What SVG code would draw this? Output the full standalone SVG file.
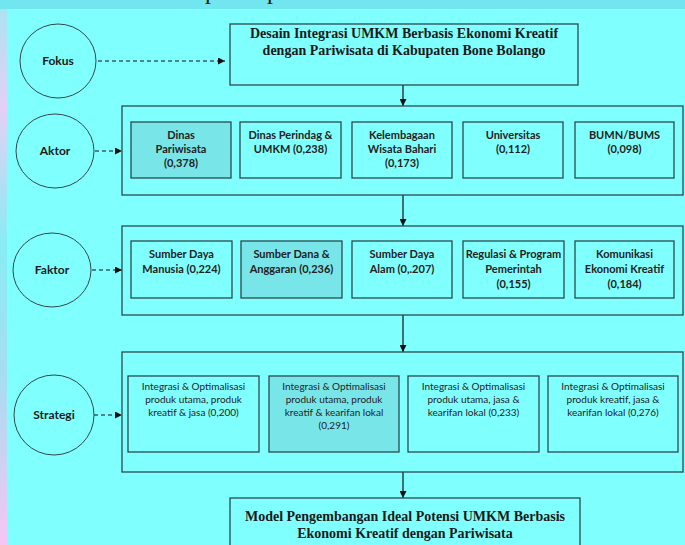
<svg xmlns="http://www.w3.org/2000/svg" width="685" height="545" viewBox="0 0 685 545">
<defs>
<linearGradient id="strip" x1="0" y1="0" x2="0" y2="1">
<stop offset="0" stop-color="#a8e4f2"/>
<stop offset="0.2" stop-color="#e4d0f6"/>
<stop offset="0.45" stop-color="#88ecf4"/>
<stop offset="0.7" stop-color="#a8dcf2"/>
<stop offset="1" stop-color="#f6c6f4"/>
</linearGradient>
<marker id="ah" viewBox="0 0 10 10" refX="10" refY="5" markerWidth="7" markerHeight="7" markerUnits="userSpaceOnUse" orient="auto">
<path d="M0,0 L10,5 L0,10 z" fill="#111"/>
</marker>
<style>
.box{fill:none;stroke:#2b4a4e;stroke-width:1.3}
.hi{fill:#78e6e8;stroke:#2b4a4e;stroke-width:1.3}
.circ{fill:none;stroke:#33474a;stroke-width:1}
.dash{stroke:#111;stroke-width:1.2;stroke-dasharray:4 3;fill:none}
.line{stroke:#111;stroke-width:1.2;fill:none}
.lbl{font-family:Lato,"Liberation Sans",sans-serif;font-size:12px;font-weight:bold;fill:#1a1a1a;text-anchor:middle}
.t1{font-family:Lato,"Liberation Sans",sans-serif;font-size:11px;font-weight:bold;fill:#222;text-anchor:middle}
.t2{font-family:Lato,"Liberation Sans",sans-serif;font-size:10px;fill:#222;text-anchor:middle}
.ser{font-family:"Liberation Serif",serif;font-size:14px;font-weight:bold;fill:#1a1a1a;text-anchor:middle}
</style>
</defs>
<rect x="0" y="0" width="685" height="545" fill="#80ffff"/>
<rect x="0" y="0" width="7" height="545" fill="url(#strip)"/>
<rect x="0" y="0" width="685" height="9" fill="#72e6ee"/>
<text x="211" y="-1" font-family="Liberation Serif,serif" font-size="24" fill="#111" text-anchor="middle">p</text>
<text x="273" y="-1" font-family="Liberation Serif,serif" font-size="24" fill="#111" text-anchor="middle">p</text>

<g id="connectors">
<line class="dash" x1="98" y1="61" x2="225" y2="61" marker-end="url(#ah)"/>
<line class="dash" x1="95" y1="151" x2="122" y2="151" marker-end="url(#ah)"/>
<line class="dash" x1="92" y1="270" x2="122" y2="270" marker-end="url(#ah)"/>
<line class="dash" x1="94" y1="415" x2="122" y2="415" marker-end="url(#ah)"/>
<line class="line" x1="403" y1="85" x2="403" y2="106" marker-end="url(#ah)"/>
<line class="line" x1="403" y1="195" x2="403" y2="226" marker-end="url(#ah)"/>
<line class="line" x1="403" y1="315" x2="403" y2="352" marker-end="url(#ah)"/>
<line class="line" x1="403" y1="472" x2="403" y2="498" marker-end="url(#ah)"/>
</g>

<g id="fokus"><ellipse class="circ" cx="58" cy="61" rx="38" ry="37"/><text class="lbl" x="58" y="65">Fokus</text></g>
<g id="aktor"><ellipse class="circ" cx="55" cy="151" rx="39" ry="37"/><text class="lbl" x="55" y="155">Aktor</text></g>
<g id="faktor"><ellipse class="circ" cx="52" cy="270" rx="39" ry="37"/><text class="lbl" x="52" y="274">Faktor</text></g>
<g id="strategi"><ellipse class="circ" cx="54" cy="415" rx="40" ry="40"/><text class="lbl" x="54" y="419">Strategi</text></g>

<g id="desain"><rect class="box" x="230" y="24" width="348" height="61"/>
<text class="ser" x="404" y="38">Desain Integrasi UMKM Berbasis Ekonomi Kreatif</text>
<text class="ser" x="404" y="55">dengan Pariwisata di Kabupaten Bone Bolango</text></g>

<g id="aktor-group"><rect class="box" x="122" y="106" width="561" height="89"/></g>
<g id="a1"><rect class="hi" x="131" y="122" width="100" height="56"/><text class="t1" x="181" y="139">Dinas</text><text class="t1" x="181" y="153">Pariwisata</text><text class="t1" x="181" y="167">(0,378)</text></g>
<g id="a2"><rect class="box" x="240" y="122" width="101" height="56"/><text class="t1" x="290.5" y="139">Dinas Perindag &amp;</text><text class="t1" x="290.5" y="153">UMKM (0,238)</text></g>
<g id="a3"><rect class="box" x="352" y="122" width="100" height="56"/><text class="t1" x="402" y="139">Kelembagaan</text><text class="t1" x="402" y="153">Wisata Bahari</text><text class="t1" x="402" y="167">(0,173)</text></g>
<g id="a4"><rect class="box" x="463" y="122" width="100" height="56"/><text class="t1" x="513" y="139">Universitas</text><text class="t1" x="513" y="153">(0,112)</text></g>
<g id="a5"><rect class="box" x="575" y="122" width="99" height="56"/><text class="t1" x="624.5" y="139">BUMN/BUMS</text><text class="t1" x="624.5" y="153">(0,098)</text></g>

<g id="faktor-group"><rect class="box" x="122" y="226" width="561" height="89"/></g>
<g id="f1"><rect class="box" x="131" y="241" width="101" height="57"/><text class="t1" x="181.5" y="258">Sumber Daya</text><text class="t1" x="181.5" y="273">Manusia (0,224)</text></g>
<g id="f2"><rect class="hi" x="241" y="241" width="101" height="57"/><text class="t1" x="291.5" y="258">Sumber Dana &amp;</text><text class="t1" x="291.5" y="273">Anggaran (0,236)</text></g>
<g id="f3"><rect class="box" x="352" y="241" width="100" height="57"/><text class="t1" x="402" y="258">Sumber Daya</text><text class="t1" x="402" y="273">Alam (0,.207)</text></g>
<g id="f4"><rect class="box" x="463" y="241" width="101" height="57"/><text class="t1" x="513.5" y="258">Regulasi &amp; Program</text><text class="t1" x="513.5" y="273">Pemerintah</text><text class="t1" x="513.5" y="288">(0,155)</text></g>
<g id="f5"><rect class="box" x="575" y="241" width="99" height="57"/><text class="t1" x="624.5" y="258">Komunikasi</text><text class="t1" x="624.5" y="273">Ekonomi Kreatif</text><text class="t1" x="624.5" y="288">(0,184)</text></g>

<g id="strategi-group"><rect class="box" x="122" y="352" width="561" height="120"/></g>
<g id="s1"><rect class="box" x="128" y="376" width="131" height="76"/><text class="t2" x="193.5" y="390">Integrasi &amp; Optimalisasi</text><text class="t2" x="193.5" y="403">produk utama, produk</text><text class="t2" x="193.5" y="416">kreatif &amp; jasa (0,200)</text></g>
<g id="s2"><rect class="hi" x="269" y="376" width="130" height="76"/><text class="t2" x="334" y="390">Integrasi &amp; Optimalisasi</text><text class="t2" x="334" y="403">produk utama, produk</text><text class="t2" x="334" y="416">kreatif &amp; kearifan lokal</text><text class="t2" x="334" y="429">(0,291)</text></g>
<g id="s3"><rect class="box" x="408" y="376" width="131" height="76"/><text class="t2" x="473.5" y="390">Integrasi &amp; Optimalisasi</text><text class="t2" x="473.5" y="403">produk utama, jasa &amp;</text><text class="t2" x="473.5" y="416">kearifan lokal (0,233)</text></g>
<g id="s4"><rect class="box" x="548" y="376" width="130" height="76"/><text class="t2" x="613" y="390">Integrasi &amp; Optimalisasi</text><text class="t2" x="613" y="403">produk kreatif, jasa &amp;</text><text class="t2" x="613" y="416">kearifan lokal (0,276)</text></g>

<g id="model"><rect class="box" x="230" y="498" width="350" height="60"/>
<text class="ser" x="405" y="521">Model Pengembangan Ideal Potensi UMKM Berbasis</text>
<text class="ser" x="405" y="538">Ekonomi Kreatif dengan Pariwisata</text></g>
</svg>
